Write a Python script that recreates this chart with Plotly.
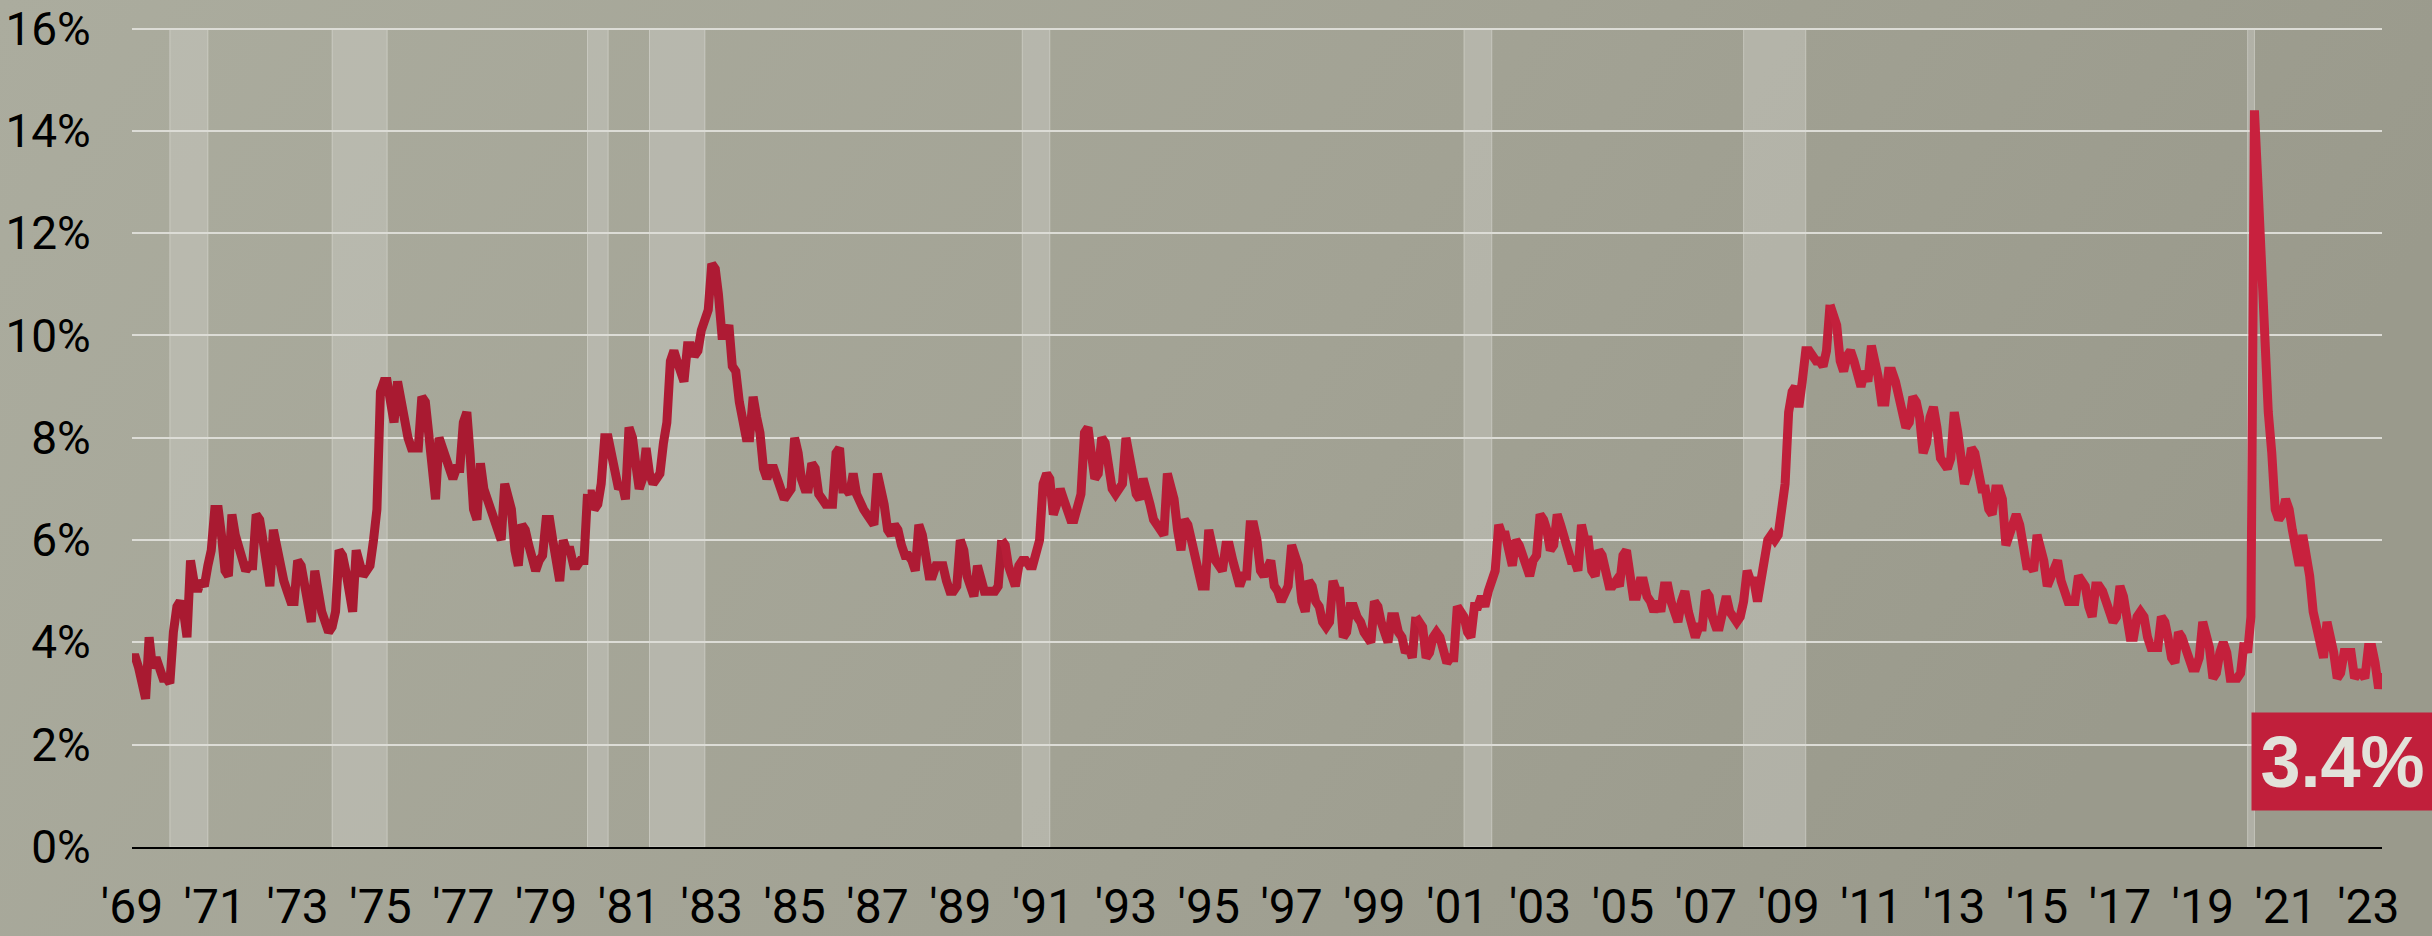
import base64
import pandas as pd
import plotly.graph_objects as go

# Monthly unemployment rate (not seasonally adjusted), %, Jan 1969 - May 2023
rate_1969_1979 = [
    3.7, 3.7, 3.5, 3.2, 2.9, 4.1, 3.5, 3.7, 3.5, 3.3, 3.3, 3.2,   # 1969
    4.2, 4.7, 4.8, 4.6, 4.1, 5.6, 5.2, 5.0, 5.2, 5.1, 5.5, 5.8,   # 1970
    6.6, 6.6, 6.1, 5.4, 5.3, 6.5, 6.1, 5.8, 5.6, 5.4, 5.5, 5.5,   # 1971
    6.5, 6.4, 6.0, 5.5, 5.1, 6.2, 5.8, 5.5, 5.2, 5.0, 4.8, 4.8,   # 1972
    5.6, 5.5, 5.2, 4.8, 4.4, 5.4, 4.9, 4.6, 4.4, 4.2, 4.3, 4.6,   # 1973
    5.8, 5.7, 5.4, 4.8, 4.6, 5.8, 5.5, 5.3, 5.4, 5.5, 6.0, 6.6,   # 1974
    8.9, 9.1, 9.1, 8.6, 8.3, 9.1, 8.7, 8.2, 8.0, 7.8, 7.8, 7.8,   # 1975
    8.8, 8.7, 8.1, 7.4, 6.8, 8.0, 7.8, 7.6, 7.4, 7.2, 7.4, 7.4,   # 1976
    8.3, 8.5, 7.7, 6.6, 6.4, 7.5, 7.0, 6.8, 6.6, 6.4, 6.3, 6.0,   # 1977
    7.1, 6.9, 6.6, 5.8, 5.5, 6.3, 6.2, 5.9, 5.6, 5.4, 5.6, 5.7,   # 1978
    6.4, 6.4, 6.0, 5.6, 5.2, 6.0, 5.8, 5.8, 5.5, 5.5, 5.6, 5.6,   # 1979
]
rate_1980_1989 = [
    6.9, 6.9, 6.6, 6.7, 7.1, 8.0, 8.0, 7.6, 7.2, 7.0, 7.1, 6.8,   # 1980
    8.2, 8.0, 7.5, 7.0, 7.2, 7.8, 7.3, 7.1, 7.2, 7.3, 7.9, 8.3,   # 1981
    9.5, 9.7, 9.5, 9.2, 9.1, 9.8, 9.8, 9.6, 9.7, 10.1, 10.4, 10.5,  # 1982
    11.4, 11.3, 10.8, 10.0, 10.0, 10.2, 9.4, 9.3, 8.7, 8.4, 8.0, 8.0,  # 1983
    8.8, 8.4, 8.1, 7.4, 7.2, 7.4, 7.4, 7.2, 7.0, 6.8, 6.9, 7.0,   # 1984
    8.0, 7.7, 7.2, 7.0, 7.0, 7.5, 7.4, 6.9, 6.8, 6.7, 6.7, 6.7,   # 1985
    7.7, 7.8, 7.0, 7.0, 6.9, 7.3, 6.9, 6.7, 6.6, 6.5, 6.4, 6.3,   # 1986
    7.3, 7.0, 6.7, 6.2, 6.1, 6.3, 6.2, 5.9, 5.7, 5.7, 5.6, 5.4,   # 1987
    6.3, 6.1, 5.8, 5.3, 5.3, 5.5, 5.5, 5.5, 5.2, 5.0, 5.0, 5.1,   # 1988
    6.0, 5.8, 5.3, 5.0, 4.9, 5.5, 5.3, 5.0, 5.0, 5.0, 5.0, 5.1,   # 1989
]
rate_1990_1999 = [
    6.0, 5.9, 5.5, 5.2, 5.1, 5.5, 5.6, 5.6, 5.5, 5.5, 5.8, 6.0,   # 1990
    7.1, 7.3, 7.2, 6.5, 6.7, 7.0, 6.8, 6.6, 6.4, 6.4, 6.6, 6.9,   # 1991
    8.1, 8.2, 7.7, 7.2, 7.3, 8.0, 7.9, 7.4, 7.0, 6.9, 7.0, 7.1,   # 1992
    8.0, 7.7, 7.3, 6.9, 6.8, 7.2, 7.0, 6.7, 6.4, 6.3, 6.2, 6.1,   # 1993
    7.3, 7.1, 6.8, 6.2, 5.8, 6.4, 6.3, 6.0, 5.6, 5.4, 5.1, 5.1,   # 1994
    6.2, 5.8, 5.6, 5.5, 5.4, 5.9, 5.9, 5.6, 5.3, 5.1, 5.3, 5.3,   # 1995
    6.3, 6.3, 6.0, 5.4, 5.3, 5.5, 5.6, 5.1, 5.0, 4.8, 5.0, 5.1,   # 1996
    5.9, 5.7, 5.5, 4.8, 4.6, 5.2, 5.1, 4.8, 4.7, 4.4, 4.3, 4.4,   # 1997
    5.2, 5.0, 5.0, 4.1, 4.2, 4.7, 4.7, 4.5, 4.4, 4.2, 4.1, 4.0,   # 1998
    4.8, 4.7, 4.4, 4.1, 4.0, 4.5, 4.5, 4.2, 4.1, 3.8, 3.9, 3.7,   # 1999
]
rate_2000_2009 = [
    4.5, 4.4, 4.3, 3.7, 3.8, 4.1, 4.2, 4.1, 3.8, 3.6, 3.7, 3.7,   # 2000
    4.7, 4.6, 4.5, 4.2, 4.1, 4.7, 4.7, 4.9, 4.7, 5.0, 5.3, 5.4,   # 2001
    6.3, 6.1, 6.1, 5.7, 5.5, 6.0, 5.9, 5.7, 5.4, 5.3, 5.6, 5.7,   # 2002
    6.5, 6.4, 6.2, 5.8, 5.9, 6.5, 6.3, 6.0, 5.8, 5.6, 5.6, 5.4,   # 2003
    6.3, 6.0, 6.0, 5.4, 5.3, 5.8, 5.7, 5.4, 5.1, 5.1, 5.2, 5.1,   # 2004
    5.7, 5.8, 5.4, 4.9, 4.9, 5.2, 5.2, 4.9, 4.8, 4.6, 4.8, 4.6,   # 2005
    5.1, 5.1, 4.8, 4.5, 4.4, 4.8, 5.0, 4.6, 4.4, 4.1, 4.3, 4.3,   # 2006
    5.0, 4.9, 4.5, 4.3, 4.3, 4.7, 4.9, 4.6, 4.5, 4.4, 4.5, 4.8,   # 2007
    5.4, 5.2, 5.2, 4.8, 5.2, 5.7, 6.0, 6.1, 6.0, 6.1, 6.5, 7.1,   # 2008
    8.5, 8.9, 9.0, 8.6, 9.1, 9.7, 9.7, 9.6, 9.5, 9.5, 9.4, 9.7,   # 2009
]
rate_2010_2019 = [
    10.6, 10.4, 10.2, 9.5, 9.3, 9.6, 9.7, 9.5, 9.2, 9.0, 9.3, 9.1,  # 2010
    9.8, 9.5, 9.2, 8.7, 8.7, 9.3, 9.3, 9.1, 8.8, 8.5, 8.2, 8.3,   # 2011
    8.8, 8.7, 8.4, 7.7, 7.9, 8.4, 8.6, 8.2, 7.6, 7.5, 7.4, 7.6,   # 2012
    8.5, 8.1, 7.6, 7.1, 7.3, 7.8, 7.7, 7.3, 7.0, 7.0, 6.6, 6.5,   # 2013
    7.0, 7.0, 6.8, 5.9, 6.1, 6.3, 6.5, 6.3, 5.7, 5.5, 5.5, 5.4,   # 2014
    6.1, 5.8, 5.6, 5.1, 5.3, 5.5, 5.6, 5.2, 4.9, 4.8, 4.8, 4.8,   # 2015
    5.3, 5.2, 5.1, 4.7, 4.5, 5.1, 5.1, 5.0, 4.8, 4.7, 4.4, 4.5,   # 2016
    5.1, 4.9, 4.6, 4.1, 4.1, 4.5, 4.6, 4.5, 4.1, 3.9, 3.9, 3.9,   # 2017
    4.5, 4.4, 4.1, 3.7, 3.6, 4.2, 4.1, 3.9, 3.6, 3.5, 3.5, 3.7,   # 2018
    4.4, 4.1, 3.9, 3.3, 3.4, 3.8, 4.0, 3.8, 3.3, 3.3, 3.3, 3.4,   # 2019
]
rate_2020_2023 = [
    4.0, 3.8, 4.5, 14.4, 13.0, 11.2, 10.5, 8.5, 7.7, 6.6, 6.4, 6.5,  # 2020
    6.8, 6.6, 6.2, 5.7, 5.5, 6.1, 5.7, 5.3, 4.6, 4.3, 3.9, 3.7,   # 2021
    4.4, 4.1, 3.8, 3.3, 3.4, 3.8, 3.8, 3.8, 3.3, 3.4, 3.4, 3.3,   # 2022
    3.9, 3.9, 3.6, 3.1, 3.4,                                      # 2023
]

# NBER recessions (shaded)
recession_starts = ["1969-12-01", "1973-11-01", "1980-01-01", "1981-07-01",
                    "1990-07-01", "2001-03-01", "2007-12-01", "2020-02-01"]
recession_ends = ["1970-11-01", "1975-03-01", "1980-07-01", "1982-11-01",
                  "1991-03-01", "2001-11-01", "2009-06-01", "2020-04-01"]

tick_years = list(range(1969, 2024, 2))
tick_labels = ["'" + str(y)[2:] for y in tick_years]
y_ticks = [0, 2, 4, 6, 8, 10, 12, 14, 16]
latest_label = "3.4%"

segments = [rate_1969_1979, rate_1980_1989, rate_1990_1999,
            rate_2000_2009, rate_2010_2019, rate_2020_2023]
segment_colors = ["#a91a31", "#ae1b34", "#b71d37", "#bf1f3a", "#c4203c", "#c8213e"]

rates = [v for seg in segments for v in seg]
dates = pd.date_range("1969-01-01", periods=len(rates), freq="MS")

W, H = 2432, 936
Y_TOP = 16.05
GRID16_Y = 29           # pixel row of the 16% gridline
ML, MR, MB = 132, 50, 89
px_per_pt = (H - MB - GRID16_Y) / 16
MT = int(round(GRID16_Y - (Y_TOP - 16) * px_per_pt))
PW, PH = W - ML - MR, H - MT - MB

fig = go.Figure()

# gradient background
svg = (
    f'<svg xmlns="http://www.w3.org/2000/svg" width="{W}" height="{H}" preserveAspectRatio="none">'
    '<defs><linearGradient id="g" x1="0" y1="0" x2="1" y2="0.25">'
    '<stop offset="0" stop-color="#abac9e"/>'
    '<stop offset="0.6" stop-color="#a2a294"/>'
    '<stop offset="1" stop-color="#9a9a8c"/>'
    '</linearGradient></defs>'
    f'<rect width="{W}" height="{H}" fill="url(#g)"/></svg>'
)
src = "data:image/svg+xml;base64," + base64.b64encode(svg.encode()).decode()
fig.add_layout_image(
    source=src, xref="paper", yref="paper",
    x=-ML / PW, y=1 + MT / PH, sizex=W / PW, sizey=H / PH,
    xanchor="left", yanchor="top", sizing="stretch", layer="below",
)

# recession shading
for s, e in zip(recession_starts, recession_ends):
    fig.add_shape(
        type="rect", xref="x", yref="y", x0=s, x1=e, y0=0, y1=16,
        fillcolor="rgba(205,205,198,0.45)",
        line=dict(color="rgba(225,225,220,0.5)", width=1), layer="below",
    )

# line, split by decade for a subtle colour shift
start = 0
for seg, col in zip(segments, segment_colors):
    end = min(start + len(seg) + 1, len(rates))
    fig.add_trace(go.Scatter(
        x=dates[start:end], y=rates[start:end], mode="lines",
        line=dict(color=col, width=9), hoverinfo="skip", showlegend=False,
    ))
    start += len(seg)

tick_font = "Roboto, Liberation Sans, Arial, sans-serif"

fig.update_layout(
    width=W, height=H,
    margin=dict(l=ML, r=MR, t=MT, b=MB, pad=0, autoexpand=False),
    paper_bgcolor="#a3a395",
    plot_bgcolor="rgba(0,0,0,0)",
    showlegend=False,
    xaxis=dict(
        type="date", automargin=False, ticklabeloverflow="allow",
        range=[dates[0], dates[-1]],
        tickvals=[f"{y}-01-01" for y in tick_years],
        ticktext=tick_labels,
        showgrid=False, zeroline=False,
        showline=True, linecolor="black", linewidth=2,
        ticks="outside", ticklen=16, tickcolor="rgba(0,0,0,0)",
        tickfont=dict(family=tick_font, size=48, color="black"),
    ),
    yaxis=dict(
        automargin=False, ticklabeloverflow="allow",
        range=[0, Y_TOP],
        tickvals=y_ticks,
        ticktext=[f"{v}%" for v in y_ticks],
        showgrid=True, gridcolor="#dcdcd6", gridwidth=2,
        zeroline=False, showline=False,
        ticks="outside", ticklen=31, tickcolor="rgba(0,0,0,0)",
        tickfont=dict(family=tick_font, size=46, color="black"),
    ),
)

fig.add_annotation(
    xref="paper", yref="paper",
    x=(2251 - ML) / PW, y=(H - MB - 761) / PH,
    xanchor="left", yanchor="middle",
    text=latest_label, showarrow=False,
    font=dict(family="Liberation Sans, Arial, sans-serif", size=72,
              color="#e2e2da", weight="bold"),
    bgcolor="#c11f3b", borderpad=0, width=181, height=97, align="center",
)

fig.write_html("out.html", config={"displayModeBar": False},
               post_script="document.body.style.margin='0px';")
